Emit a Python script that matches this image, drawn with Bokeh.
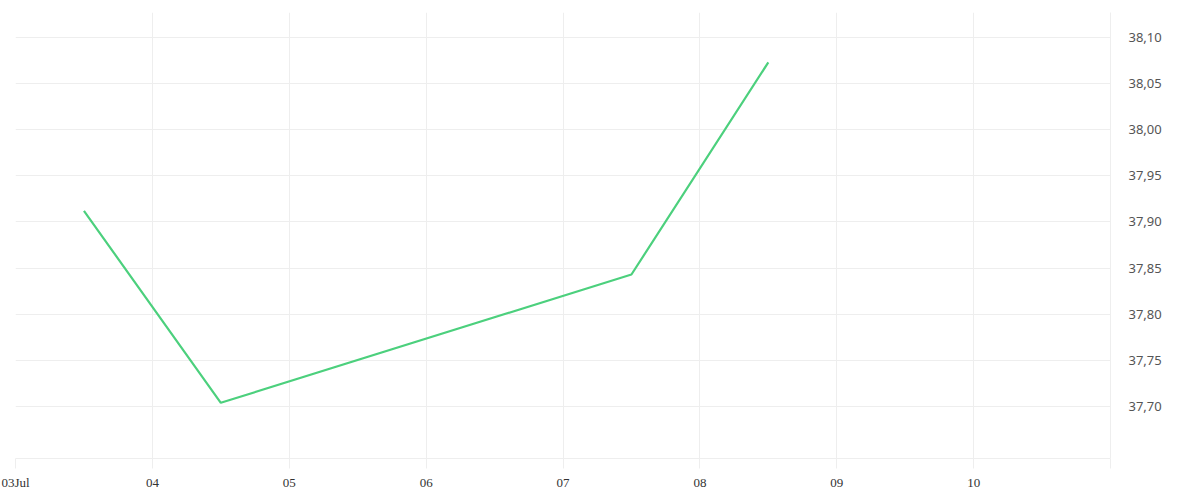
from datetime import datetime, timezone
from bokeh.plotting import figure
from bokeh.models import Range1d, FixedTicker, CustomJSTickFormatter
from bokeh.embed import file_html
from bokeh.resources import INLINE

# ---- data ----
dates = ["2024-07-03 12:00", "2024-07-04 12:00", "2024-07-07 12:00", "2024-07-08 12:00"]
values = [37.912, 37.704, 37.843, 38.073]
tick_days = ["2024-07-03", "2024-07-04", "2024-07-05", "2024-07-06", "2024-07-07",
             "2024-07-08", "2024-07-09", "2024-07-10", "2024-07-11"]
tick_labels = ["03Jul", "04", "05", "06", "07", "08", "09", "10", ""]
y_ticks = [37.70, 37.75, 37.80, 37.85, 37.90, 37.95, 38.00, 38.05, 38.10]


def to_ms(s):
    fmt = "%Y-%m-%d %H:%M" if " " in s else "%Y-%m-%d"
    return datetime.strptime(s, fmt).replace(tzinfo=timezone.utc).timestamp() * 1000


xs = [to_ms(d) for d in dates]
xticks = [to_ms(d) for d in tick_days]

GRID = "#eeeeee"

p = figure(
    x_axis_type="datetime",
    frame_width=1095, frame_height=446,
    min_border_left=15, min_border_top=12, min_border_right=80, min_border_bottom=34,
    output_backend="svg", toolbar_location=None,
    x_range=Range1d(xticks[0], xticks[-1]),
    y_range=Range1d(37.6436, 38.127),
    y_axis_location="right",
)
p.outline_line_color = None
p.background_fill_color = "white"
p.border_fill_color = "white"

p.line(xs, values, line_color="#4cd07d", line_width=2.2)

# x axis
xa = p.xaxis[0]
xa.ticker = FixedTicker(ticks=xticks)
xa.formatter = CustomJSTickFormatter(
    args=dict(labels=tick_labels, start=xticks[0]),
    code="const i = Math.round((tick - start) / 86400000); return labels[i] ?? '';",
)
xa.axis_line_color = GRID
xa.major_tick_line_color = GRID
xa.major_tick_out = 10
xa.major_tick_in = 0
xa.minor_tick_line_color = None
xa.major_label_standoff = 6
xa.major_label_text_font = "Liberation Serif"
xa.major_label_text_font_size = "13px"
xa.major_label_text_color = "#333333"

# y axis (right)
ya = p.yaxis[0]
ya.ticker = FixedTicker(ticks=y_ticks)
ya.formatter = CustomJSTickFormatter(code="return tick.toFixed(2).replace('.', ',');")
ya.axis_line_color = GRID
ya.major_tick_line_color = None
ya.minor_tick_line_color = None
ya.major_label_standoff = 12
ya.major_label_text_font = "Noto Sans"
ya.major_label_text_font_size = "13px"
ya.major_label_text_color = "#555555"

p.xgrid.grid_line_color = GRID
p.ygrid.grid_line_color = GRID
p.xgrid.ticker = FixedTicker(ticks=xticks)
p.ygrid.ticker = FixedTicker(ticks=y_ticks)

open("out.html", "w").write(file_html(p, INLINE))
